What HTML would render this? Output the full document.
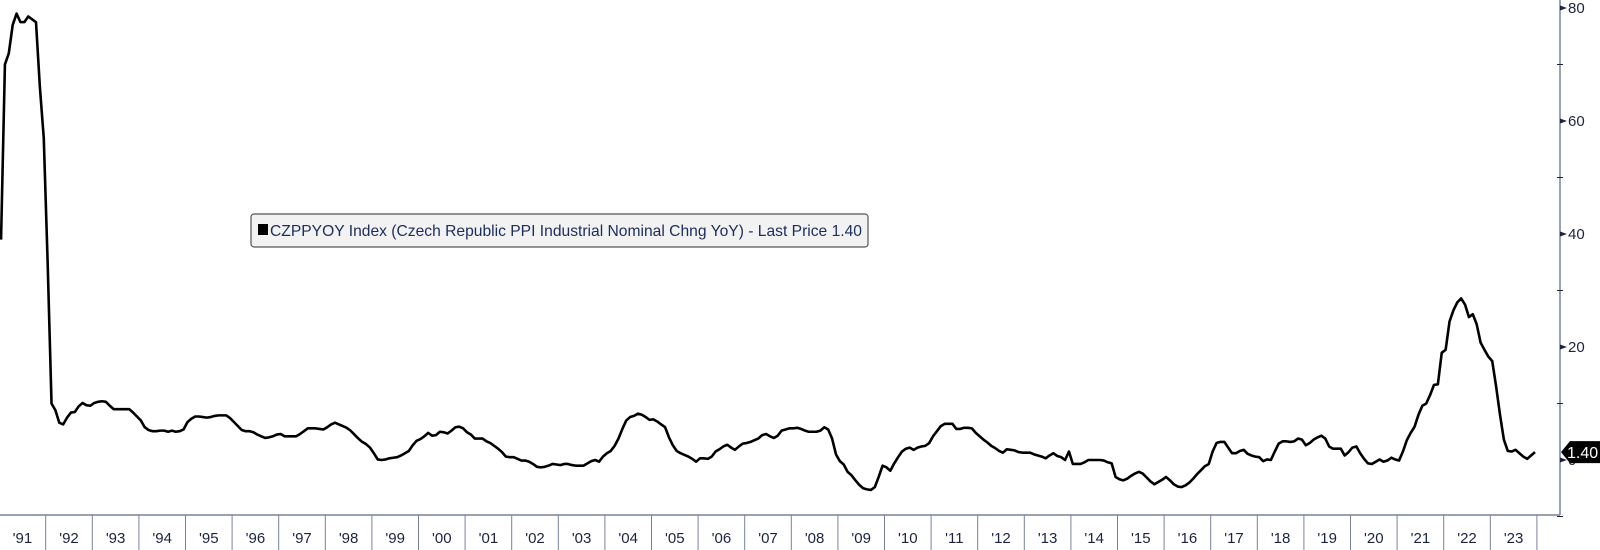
<!DOCTYPE html>
<html><head><meta charset="utf-8"><style>
html,body{margin:0;padding:0;background:#fff;}
svg{display:block;font-family:"Liberation Sans","DejaVu Sans",sans-serif;}
</style></head><body>
<svg id="chart" width="1600" height="550" viewBox="0 0 1600 550" xmlns="http://www.w3.org/2000/svg">
<rect x="0" y="0" width="1600" height="550" fill="#fff"/>
<g id="yaxis"></g>
<g id="xaxis"></g>
<path id="line" fill="none" stroke="#000" stroke-width="2.6" stroke-linejoin="round"/>
<g>
<rect x="251" y="214" width="617" height="33" rx="3" fill="#f2f2f2" stroke="#555" stroke-width="1.2"/>
<rect x="258" y="224" width="10" height="11" fill="#000"/>
<text x="270" y="236" font-size="16" fill="#1c2d5c" textLength="592" lengthAdjust="spacingAndGlyphs">CZPPYOY Index (Czech Republic PPI Industrial Nominal Chng YoY) - Last Price 1.40</text>
</g>
<g id="tag"></g>
</svg>
<script>
const years = ["'91","'92","'93","'94","'95","'96","'97","'98","'99","'00","'01","'02","'03","'04","'05","'06","'07","'08","'09","'10","'11","'12","'13","'14","'15","'16","'17","'18","'19","'20","'21","'22","'23"];
const yTicks = [0,20,40,60,80];
const yTickLabels = ["0","20","40","60","80"];
const lastPrice = 1.40;
const v1991 = [39,70,72,77,79,77.5,77.5,78.5,78,77.5,66,57];
const v1992 = [35,10,8.8,6.6,6.3,7.5,8.4,8.5,9.5,10.1,9.7,9.6];
const v1993 = [10.1,10.3,10.4,10.3,9.6,9.0,9.0,9.0,9.0,9.0,8.4,7.7];
const v1994 = [7.0,5.8,5.3,5.1,5.1,5.2,5.2,5.0,5.2,5.0,5.1,5.4];
const v1995 = [6.7,7.3,7.7,7.7,7.6,7.5,7.6,7.8,7.9,7.9,7.9,7.4];
const v1996 = [6.7,6.0,5.3,5.1,5.1,4.9,4.5,4.2,3.9,4.0,4.2,4.5];
const v1997 = [4.6,4.2,4.2,4.2,4.2,4.6,5.1,5.6,5.6,5.6,5.5,5.4];
const v1998 = [5.8,6.3,6.6,6.3,6.0,5.7,5.2,4.5,3.8,3.2,2.8,2.2];
const v1999 = [1.2,0.1,0.0,0.1,0.3,0.4,0.5,0.8,1.2,1.6,2.6,3.4];
const v2000 = [3.7,4.2,4.8,4.3,4.4,5.0,4.9,4.7,5.2,5.8,5.9,5.6];
const v2001 = [4.9,4.5,3.8,3.8,3.8,3.3,3.0,2.5,2.0,1.4,0.6,0.5];
const v2002 = [0.5,0.2,-0.1,-0.1,-0.3,-0.7,-1.2,-1.3,-1.2,-1.0,-0.7,-0.8];
const v2003 = [-0.9,-0.7,-0.7,-0.9,-1.0,-1.0,-1.0,-0.6,-0.2,0.0,-0.3,0.6];
const v2004 = [1.2,1.6,2.5,3.8,5.5,7.0,7.6,7.8,8.2,8.0,7.6,7.1];
const v2005 = [7.2,6.8,6.3,5.8,4.0,2.6,1.6,1.2,0.9,0.6,0.2,-0.3];
const v2006 = [0.3,0.3,0.2,0.6,1.5,1.9,2.4,2.7,2.2,1.8,2.4,2.9];
const v2007 = [3.0,3.2,3.5,3.8,4.4,4.6,4.2,3.9,4.3,5.2,5.4,5.6];
const v2008 = [5.6,5.7,5.5,5.2,5.0,5.0,5.0,5.2,5.8,5.4,3.8,1.0];
const v2009 = [-0.2,-0.8,-2.1,-2.7,-3.6,-4.4,-5.0,-5.2,-5.3,-4.8,-3.0,-1.0];
const v2010 = [-1.3,-1.9,-0.6,0.5,1.5,2.0,2.2,1.8,2.2,2.4,2.5,3.0];
const v2011 = [4.2,5.1,6.0,6.4,6.4,6.4,5.5,5.5,5.7,5.7,5.6,4.8];
const v2012 = [4.2,3.6,3.1,2.5,2.1,1.6,1.3,1.9,1.8,1.7,1.4,1.3];
const v2013 = [1.3,1.3,1.0,0.8,0.6,0.3,0.8,1.2,0.7,0.5,0.0,1.5];
const v2014 = [-0.7,-0.7,-0.7,-0.4,0.0,0.0,0.0,0.0,-0.1,-0.4,-0.6,-3.0];
const v2015 = [-3.4,-3.6,-3.3,-2.8,-2.4,-2.1,-2.4,-3.1,-3.8,-4.3,-3.9,-3.5];
const v2016 = [-3.0,-3.6,-4.3,-4.7,-4.8,-4.5,-4.0,-3.3,-2.5,-1.8,-1.1,-0.7];
const v2017 = [1.5,3.0,3.2,3.2,2.2,1.2,1.2,1.6,1.8,1.1,0.8,0.6];
const v2018 = [0.5,-0.2,0.1,0.0,1.5,2.9,3.3,3.3,3.2,3.3,3.8,3.6];
const v2019 = [2.6,3.0,3.6,4.0,4.3,3.8,2.4,2.0,2.0,2.0,0.8,1.4];
const v2020 = [2.2,2.4,1.2,0.2,-0.6,-0.7,-0.3,0.1,-0.3,-0.1,0.4,0.1];
const v2021 = [-0.1,1.5,3.5,4.8,5.9,8.0,9.6,10.0,11.5,13.3,13.4,19.0];
const v2022 = [19.5,24.5,26.5,27.9,28.6,27.5,25.3,25.8,24.0,20.8,19.5,18.3];
const v2023 = [17.5,13.0,8.0,3.6,1.6,1.5,1.8,1.2,0.6,0.2,0.8,1.4];
const values = [].concat(v1991,v1992,v1993,v1994,v1995,v1996,v1997,v1998,v1999,v2000,v2001,v2002,v2003,v2004,v2005,v2006,v2007,v2008,v2009,v2010,v2011,v2012,v2013,v2014,v2015,v2016,v2017,v2018,v2019,v2020,v2021,v2022,v2023);

const NS = "http://www.w3.org/2000/svg";
const X0 = -0.9, MONTH = 46.6/12, AXIS_X = 1560, AXIS_Y = 515;
function xMonth(i){ return X0 + (i + 0.5) * MONTH; }
function xYearStart(k){ return X0 + k * 46.6; }
function yVal(v){ return 460 - v * 5.65; }
function mk(tag, attrs, parent){ const e = document.createElementNS(NS, tag); for (const k in attrs) e.setAttribute(k, attrs[k]); parent.appendChild(e); return e; }

// line
let d = "";
values.forEach((v, i) => { d += (i ? "L" : "M") + xMonth(i).toFixed(2) + " " + yVal(v).toFixed(2); });
document.getElementById("line").setAttribute("d", d);

// y axis
const ya = document.getElementById("yaxis");
mk("line", {x1: AXIS_X, y1: 0, x2: AXIS_X, y2: AXIS_Y, stroke: "#7b819c", "stroke-width": 1.5}, ya);
yTicks.forEach((t, i) => {
  const y = yVal(t);
  const m = mk("path", {d: `M${AXIS_X} ${y-2.5}L${AXIS_X+7} ${y}L${AXIS_X} ${y+2.5}Z`, fill: "#1c2340"}, ya);
  
  
  const tx = mk("text", {x: AXIS_X + 8, y: y + 5, "font-size": 15, fill: "#1c2340"}, ya);
  
  
  tx.textContent = yTickLabels[i];
  if (i < yTicks.length - 1) {
    const ym = yVal(t + 10);
    const mn = mk("line", {x1: AXIS_X - 3, y1: ym, x2: AXIS_X + 3, y2: ym, stroke: "#1c2340", "stroke-width": 1}, ya);
    
    
  }
});
const ym = yVal(-10);
mk("line", {x1: AXIS_X - 3, y1: ym, x2: AXIS_X + 3, y2: ym, stroke: "#1c2340", "stroke-width": 1}, ya);

// x axis
const xa = document.getElementById("xaxis");
mk("line", {x1: 0, y1: AXIS_Y, x2: AXIS_X, y2: AXIS_Y, stroke: "#7b819c", "stroke-width": 1.5}, xa);
years.forEach((lab, k) => {
  const xb = xYearStart(k + 1);
  const tk = mk("line", {x1: xb, y1: AXIS_Y, x2: xb, y2: 550, stroke: "#7b819c", "stroke-width": 1}, xa);
  
  
  const tx = mk("text", {x: xYearStart(k) + 23.3, y: 543, "font-size": 15, fill: "#1c2340", "text-anchor": "middle"}, xa);
  
  
  tx.textContent = lab;
});

// last price tag
const tg = document.getElementById("tag");
const ty = yVal(lastPrice);
mk("path", {d: `M1561 ${ty}L1570 ${ty-11}L1600 ${ty-11}L1600 ${ty+11}L1570 ${ty+11}Z`, fill: "#000"}, tg);
const tt = mk("text", {x: 1567, y: ty + 6, "font-size": 16, fill: "#fff"}, tg);


tt.textContent = lastPrice.toFixed(2);
</script>
</body></html>
